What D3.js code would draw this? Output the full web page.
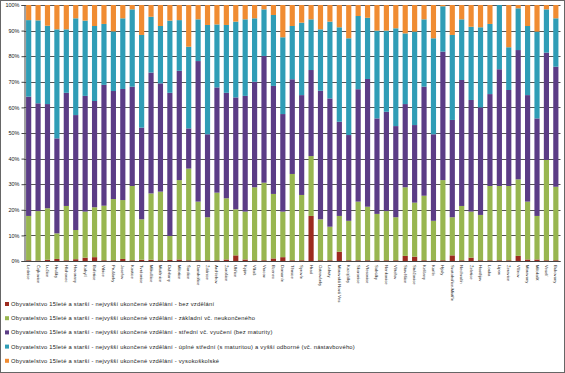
<!DOCTYPE html>
<html>
<head>
<meta charset="utf-8">
<script src="https://d3js.org/d3.v7.min.js"></script>
<style>
  body { margin: 0; background: #fff; }
  svg { display: block; font-family: "Liberation Sans", Arial, sans-serif; }
  .grid line { stroke: #555; stroke-width: 1; }
  .axis path, .axis line { stroke: #444; }
</style>
</head>
<body>
<svg id="chart" width="565" height="373"></svg>
<script>
// obce (popisky osy x)
var obce = [
  "Lednice", "Čejkovice", "Lužice", "Hrušky", "Hlohovec", "Hovorany", "Kobylí", "Bořetice",
  "Vrbice", "Prušánky", "Josefov", "Kostice", "Tvrdonice", "Mikulčice", "Mutěnice", "Dubňany",
  "Milotice", "Šardice", "Dambořice", "Ždánice", "Archlebov", "Žarošice", "Uhřice", "Kyjov",
  "Vlkoš", "Vracov", "Bzenec", "Domanín", "Těmice", "Syrovín", "Hrad", "Ostrovánky",
  "Labuty", "Moravská Nová Ves", "Kozojídky", "Skoronice", "Vřesovice", "Sobůlky", "Nenkovice",
  "Věteřov", "Stavěšice", "Strážovice", "Kelčany", "Karlín", "Hýsly", "Svatobořice-Mistřín",
  "Nechvalín", "Želetice", "Hostějov", "Louka", "Lipov", "Žeravice", "Vlčnov", "Moravany",
  "Milokošť", "Veselí", "Bukovany"
];

// podíly v %, čtené z obrázku
var bezVzdelani = [0.3,0.2,0.5,0.8,0.3,0.7,1.3,1.5,0.3,0.3,0.8,0.3,0.5,0.5,0.3,0.4,0.6,0.3,0.3,0.3,
  0.3,0.6,2.2,0.6,0.3,0.3,1.0,1.5,0.3,0.3,17.6,0.3,0.3,3.6,0.3,0.3,0.3,0.3,0.3,0.3,
  2.0,1.7,0.3,0.3,0.3,2.2,0.3,1.3,0.3,0.3,0.3,0.3,2.0,0.6,0.6,0.3,0.3];
var zakladni = [17.3,19.3,20.1,10.0,21.2,11.4,18.0,19.5,21.3,23.9,23.0,29.0,15.8,25.9,26.8,9.4,31.0,35.8,22.9,16.8,
  26.4,23.9,18.0,18.7,28.5,30.3,25.2,17.8,33.7,25.5,23.4,16.0,13.1,14.0,15.4,22.9,20.9,18.1,19.2,16.8,
  26.8,21.1,25.2,15.4,31.3,14.9,21.2,18.0,17.7,29.0,29.0,29.0,29.9,22.6,17.0,39.2,28.7];
var stredni = [46.6,42.1,40.7,37.1,44.2,44.9,45.2,41.5,47.2,42.2,43.4,38.8,35.8,47.2,42.3,55.9,42.7,15.7,54.9,32.4,
  41.1,41.2,43.7,45.2,41.2,49.5,42.2,38.1,37.0,39.0,33.6,50.2,50.1,36.8,33.5,43.9,49.9,37.3,38.8,35.6,
  32.5,30.3,42.6,33.8,50.2,38.0,49.2,43.6,42.0,35.9,45.6,37.5,50.5,41.6,38.1,41.9,46.9];
var uplneStredni = [29.9,32.4,30.6,42.6,24.8,37.8,29.4,29.3,23.8,23.3,27.6,30.2,36.2,21.8,22.4,28.2,19.8,31.9,16.3,42.7,
  24.6,26.5,29.6,29.9,24.8,18.2,27.7,30.0,20.8,28.3,19.8,24.0,30.0,36.9,37.8,28.6,23.9,34.3,31.7,38.2,
  27.6,36.5,26.3,37.5,17.7,33.2,23.7,28.6,31.3,27.4,25.1,16.7,16.3,27.0,33.9,16.9,18.9];
var vysokoskolske = [5.9,6.0,8.1,9.5,9.5,5.2,6.1,8.2,7.4,10.3,5.2,1.7,11.7,4.6,8.2,6.1,5.9,16.3,5.6,7.8,
  7.6,7.8,6.5,5.6,5.2,1.7,3.9,12.6,8.2,6.9,5.6,9.5,6.5,8.7,13.0,4.3,5.0,10.0,10.0,9.1,
  11.1,10.4,5.6,13.0,0.5,11.7,5.6,8.5,8.7,7.4,0.0,16.5,1.3,8.2,10.4,1.7,5.2];

var yTicks = [0, 10, 20, 30, 40, 50, 60, 70, 80, 90, 100];

var nazvy = [
  "Obyvatelstvo 15leté a starší - nejvyšší ukončené vzdělání - bez vzdělání",
  "Obyvatelstvo 15leté a starší - nejvyšší ukončené vzdělání - základní vč. neukončeného",
  "Obyvatelstvo 15leté a starší - nejvyšší ukončené vzdělání - střední vč. vyučení (bez maturity)",
  "Obyvatelstvo 15leté a starší - nejvyšší ukončené vzdělání - úplné střední (s maturitou) a vyšší odborné (vč. nástavbového)",
  "Obyvatelstvo 15leté a starší - nejvyšší ukončené vzdělání - vysokoškolské"
];
var barvy = ["#9c2b1f", "#98b650", "#5b3c86", "#2f9db6", "#f08c32"];

var keys = ["bez", "zakl", "str", "upl", "vs"];
var serie = [bezVzdelani, zakladni, stredni, uplneStredni, vysokoskolske];
var table = obce.map(function(o, i) {
  var row = { obec: o };
  keys.forEach(function(k, j) { row[k] = serie[j][i]; });
  return row;
});

var svg = d3.select("#chart");

// ramecek
svg.append("rect")
  .attr("x", 0.5).attr("y", 0.5)
  .attr("width", 564).attr("height", 372)
  .attr("fill", "#fff").attr("stroke", "#666");

var pLeft = 24, pRight = 560.5, pTop = 5, pBottom = 261;

var x = d3.scaleBand()
  .domain(obce)
  .range([pLeft, pRight])
  .paddingInner(0.45)
  .paddingOuter(0.22);

var y = d3.scaleLinear()
  .domain([0, 100])
  .range([pBottom, pTop]);

// mrizka
svg.append("g").attr("class", "grid")
  .selectAll("line")
  .data(yTicks)
  .enter().append("line")
  .attr("x1", pLeft).attr("x2", pRight)
  .attr("y1", function(d) { return Math.round(y(d)) + 0.5; })
  .attr("y2", function(d) { return Math.round(y(d)) + 0.5; });

var stack = d3.stack().keys(keys);
var vrstvy = stack(table);

svg.append("g")
  .selectAll("g")
  .data(vrstvy)
  .enter().append("g")
  .attr("fill", function(d, i) { return barvy[i]; })
  .selectAll("rect")
  .data(function(d) { return d; })
  .enter().append("rect")
  .attr("x", function(d) { return x(d.data.obec); })
  .attr("width", x.bandwidth())
  .attr("y", function(d) { return y(Math.min(d[1], 100)); })
  .attr("height", function(d) { return Math.max(0, y(d[0]) - y(Math.min(d[1], 100))); });

// osa y
var yAxis = svg.append("g")
  .attr("class", "axis")
  .attr("transform", "translate(" + (pLeft + 0.5) + ",0)")
  .call(d3.axisLeft(y).tickValues(yTicks).tickSize(3).tickPadding(2)
    .tickFormat(function(d) { return d + "%"; }));
yAxis.selectAll("text").attr("font-size", "5.5px").attr("fill", "#222")
  .attr("font-family", "Liberation Sans, Arial, sans-serif");

// osa x
svg.append("line")
  .attr("x1", pLeft).attr("x2", pRight)
  .attr("y1", pBottom + 0.5).attr("y2", pBottom + 0.5)
  .attr("stroke", "#444");

svg.append("g")
  .selectAll("text")
  .data(obce)
  .enter().append("text")
  .attr("transform", function(d) {
    return "translate(" + (x(d) + x.bandwidth() / 2 - 1.5) + "," + (pBottom + 4) + ") rotate(90)";
  })
  .attr("font-size", "4.2px")
  .attr("fill", "#222")
  .text(function(d) { return d; });

// legenda
var leg = svg.append("g")
  .selectAll("g")
  .data(nazvy)
  .enter().append("g")
  .attr("transform", function(d, i) { return "translate(5," + (305 + i * 14.2) + ")"; });

leg.append("rect")
  .attr("x", 0).attr("y", -3)
  .attr("width", 4).attr("height", 4)
  .attr("fill", function(d, i) { return barvy[i]; });

leg.append("text")
  .attr("x", 6).attr("y", 1)
  .attr("font-size", "5.8px")
  .attr("letter-spacing", "0.25px")
  .attr("fill", "#222")
  .text(function(d) { return d; });
</script>
</body>
</html>
